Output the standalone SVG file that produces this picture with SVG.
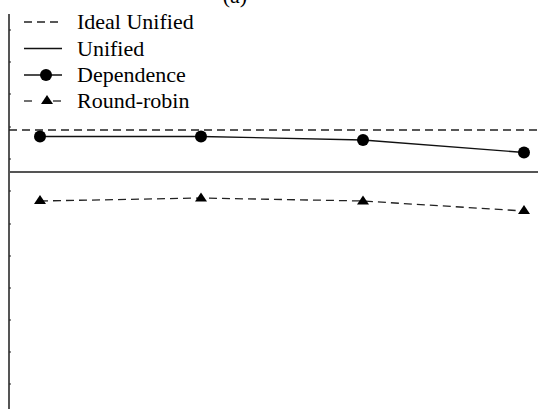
<svg xmlns="http://www.w3.org/2000/svg" width="538" height="409" viewBox="0 0 538 409">
<style>
.lbl{font-size:22px;fill:#000}
.axis{stroke:#555;stroke-width:2;fill:none}
.tick{stroke:#222;stroke-width:1.2}
.ideal{stroke:#222;stroke-width:1.3;stroke-dasharray:8 5;fill:none}
.unified{stroke:#555;stroke-width:2;fill:none}
.dep{stroke:#111;stroke-width:1.3;fill:none}
.rr{stroke:#222;stroke-width:1.3;stroke-dasharray:8 5;fill:none}
.dot{fill:#000}
.tri{fill:#000}
</style>
<defs>
<circle id="dotm" r="6" class="dot"/>
<path id="trim" d="M0,-5 L6,4 L-6,4 Z" class="tri"/>
</defs>
<text class="lbl" x="235" y="3" text-anchor="middle" font-size="26" font-family="Liberation Serif">(a)</text>
<g id="axis">
<line class="axis" x1="9" y1="14" x2="9" y2="409"/>
<g class="tick">
<line x1="9" y1="30" x2="11" y2="30"/><line x1="9" y1="62" x2="11" y2="62"/><line x1="9" y1="94" x2="11" y2="94"/><line x1="9" y1="127" x2="11" y2="127"/><line x1="9" y1="159" x2="11" y2="159"/><line x1="9" y1="191" x2="11" y2="191"/><line x1="9" y1="224" x2="11" y2="224"/><line x1="9" y1="256" x2="11" y2="256"/><line x1="9" y1="288" x2="11" y2="288"/><line x1="9" y1="320" x2="11" y2="320"/><line x1="9" y1="352" x2="11" y2="352"/><line x1="9" y1="384" x2="11" y2="384"/>
</g>
</g>
<g id="legend">
<g id="leg-ideal"><line class="ideal" x1="24" y1="22" x2="62" y2="22" stroke-dasharray="8 7"/><text class="lbl" x="77" y="29" font-family="Liberation Serif">Ideal Unified</text></g>
<g id="leg-unified"><line class="dep" x1="24" y1="48.5" x2="62" y2="48.5"/><text class="lbl" x="77" y="56" font-family="Liberation Serif">Unified</text></g>
<g id="leg-dep"><line class="dep" x1="24" y1="75" x2="62" y2="75"/><use href="#dotm" x="46" y="75"/><text class="lbl" x="77" y="82" font-family="Liberation Serif">Dependence</text></g>
<g id="leg-rr"><line class="rr" x1="24" y1="101" x2="32" y2="101" stroke-dasharray="none"/><line class="rr" x1="53" y1="101" x2="62" y2="101" stroke-dasharray="none"/><use href="#trim" x="47" y="100"/><text class="lbl" x="77" y="108" font-family="Liberation Serif">Round-robin</text></g>
</g>
<g id="connectors">
<line class="ideal" x1="9" y1="130" x2="538" y2="130"/>
<line class="unified" x1="9" y1="172" x2="538" y2="172"/>
<polyline class="dep" points="40,136.5 201,136.5 363,140 524,152.5"/>
<polyline class="rr" points="40,201 201,198 363,201 524,211"/>
</g>
<g id="dependence">
<use href="#dotm" x="40" y="136.5"/>
<use href="#dotm" x="201" y="136.5"/>
<use href="#dotm" x="363" y="140"/>
<use href="#dotm" x="524" y="152.5"/>
</g>
<g id="roundrobin">
<use href="#trim" x="40" y="200"/>
<use href="#trim" x="201" y="197.5"/>
<use href="#trim" x="363" y="200.5"/>
<use href="#trim" x="524" y="210"/>
</g>
</svg>
